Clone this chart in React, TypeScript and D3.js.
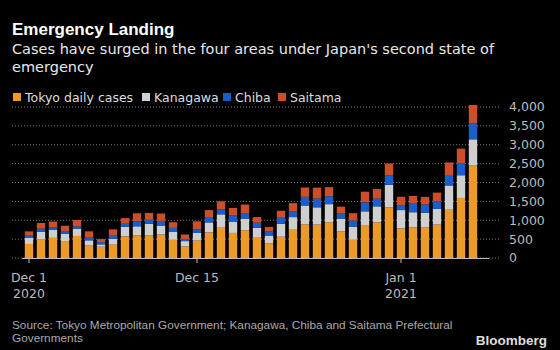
import React, { useEffect, useRef } from "react";
import * as d3 from "d3";

// Daily cases, Dec 1 2020 .. Jan 7 2021
const startDate = "2020-12-01";
const tokyo = [372, 500, 533, 449, 584, 327, 299, 352, 572, 602, 595, 621, 480, 305, 460, 678, 822, 664, 736, 556, 392, 563, 748, 888, 884, 949, 708, 481, 856, 944, 1337, 783, 814, 816, 884, 1278, 1591, 2447];
const kanagawa = [158, 198, 212, 195, 194, 141, 62, 158, 256, 238, 309, 239, 220, 142, 203, 265, 335, 301, 309, 247, 203, 345, 335, 503, 459, 477, 336, 344, 380, 424, 601, 486, 398, 380, 415, 644, 601, 697];
const chiba = [62, 79, 62, 53, 62, 71, 62, 80, 80, 133, 106, 123, 98, 53, 97, 141, 133, 167, 132, 132, 115, 159, 150, 230, 230, 212, 132, 168, 238, 203, 247, 132, 229, 221, 203, 256, 318, 424];
const saitama = [114, 150, 159, 159, 168, 168, 79, 168, 150, 212, 185, 195, 150, 123, 212, 186, 211, 195, 239, 150, 114, 185, 221, 247, 291, 239, 186, 194, 283, 256, 318, 221, 203, 203, 230, 353, 388, 486];

const seriesNames = ["Tokyo daily cases", "Kanagawa", "Chiba", "Saitama"];
const seriesColors = ["#ec9a2c", "#cfcfcf", "#1a5fc9", "#c9502a"];
const yTicks = [0, 500, 1000, 1500, 2000, 2500, 3000, 3500, 4000];
const xTickDates = ["2020-12-01", "2020-12-15", "2021-01-01"];
const xTickLabels = [["Dec 1", "2020"], ["Dec 15", ""], ["Jan 1", "2021"]];

const W = 560;
const H = 350;
const FONT = "'DejaVu Sans', sans-serif";
const NARROW = "'Liberation Sans', Arial, sans-serif";

const App = () => {
  const svgRef = useRef<SVGSVGElement>(null);

  useEffect(() => {
    const svg = d3.select(svgRef.current);
    svg.selectAll("*").remove();

    const start = new Date(startDate + "T00:00:00Z");
    const rows = tokyo.map((t, i) => ({
      date: d3.utcDay.offset(start, i),
      tokyo: t,
      kanagawa: kanagawa[i],
      chiba: chiba[i],
      saitama: saitama[i],
    }));
    const keys = ["tokyo", "kanagawa", "chiba", "saitama"];
    const stacked = d3.stack<any>().keys(keys)(rows);

    const x = d3.scaleUtc()
      .domain([rows[0].date, rows[rows.length - 1].date])
      .range([29, 473]);
    const y = d3.scaleLinear().domain([0, 4000]).range([258, 107]);
    const barW = 8.4;

    // background
    svg.append("rect").attr("width", W).attr("height", H).attr("fill", "#000");

    // titles
    svg.append("text").attr("x", 12).attr("y", 35)
      .attr("font-family", NARROW).attr("font-weight", "bold").attr("font-size", 17)
      .attr("fill", "#fff").text("Emergency Landing");
    const sub = svg.append("text").attr("font-family", FONT).attr("font-size", 14.5).attr("fill", "#e8e8e8");
    sub.append("tspan").attr("x", 12).attr("y", 54).text("Cases have surged in the four areas under Japan's second state of");
    sub.append("tspan").attr("x", 12).attr("y", 72).text("emergency");

    // legend
    const legendX = [13, 142, 223, 278];
    seriesNames.forEach((name, i) => {
      svg.append("rect").attr("x", legendX[i]).attr("y", 93).attr("width", 8).attr("height", 8)
        .attr("fill", seriesColors[i]);
      svg.append("text").attr("x", legendX[i] + 12).attr("y", 101.5)
        .attr("font-family", FONT).attr("font-size", 12.5).attr("fill", "#ddd").text(name);
    });

    // gridlines + y labels
    svg.append("g").selectAll("line").data(yTicks).join("line")
      .attr("x1", 12).attr("x2", 500)
      .attr("y1", (d) => y(d)).attr("y2", (d) => y(d))
      .attr("stroke", "#777").attr("stroke-width", 1).attr("stroke-dasharray", "1,2");
    svg.append("g").selectAll("text").data(yTicks).join("text")
      .attr("x", 509).attr("y", (d) => y(d)).attr("dy", "0.35em")
      .attr("font-family", FONT).attr("font-size", 12.5).attr("fill", "#bbb")
      .text((d) => d3.format(",")(d));

    // bars
    svg.append("g").selectAll("g").data(stacked).join("g")
      .attr("fill", (d, i) => seriesColors[i])
      .selectAll("rect").data((d) => d).join("rect")
      .attr("x", (d: any) => x(d.data.date) - barW / 2)
      .attr("width", barW)
      .attr("y", (d) => y(d[1]))
      .attr("height", (d) => y(d[0]) - y(d[1]));

    // x axis
    svg.append("line").attr("x1", 22).attr("x2", 489).attr("y1", y(0) + 0.5).attr("y2", y(0) + 0.5)
      .attr("stroke", "#bbb").attr("stroke-width", 1);
    const tickDates = xTickDates.map((s) => new Date(s + "T00:00:00Z"));
    svg.append("g").selectAll("line").data(tickDates).join("line")
      .attr("x1", (d) => x(d)).attr("x2", (d) => x(d))
      .attr("y1", y(0)).attr("y2", y(0) + 5)
      .attr("stroke", "#bbb");
    tickDates.forEach((d, i) => {
      const t = svg.append("text").attr("font-family", FONT).attr("font-size", 12.5)
        .attr("fill", "#bbb").attr("text-anchor", "middle");
      t.append("tspan").attr("x", x(d)).attr("y", 282).text(xTickLabels[i][0]);
      t.append("tspan").attr("x", x(d)).attr("y", 298).text(xTickLabels[i][1]);
    });

    // source + logo
    const src = svg.append("text").attr("font-family", NARROW).attr("font-size", 11.8).attr("fill", "#aaa");
    src.append("tspan").attr("x", 12).attr("y", 329).text("Source: Tokyo Metropolitan Government; Kanagawa, Chiba and Saitama Prefectural");
    src.append("tspan").attr("x", 12).attr("y", 342).text("Governments");
    svg.append("text").attr("x", 547).attr("y", 345).attr("text-anchor", "end")
      .attr("font-family", NARROW).attr("font-weight", "bold").attr("font-size", 13.5)
      .attr("fill", "#ddd").text("Bloomberg");
  }, []);

  return (
    <svg ref={svgRef} width={W} height={H}
      style={{ position: "absolute", left: 0, top: 0, display: "block" }} />
  );
};

export default App;
